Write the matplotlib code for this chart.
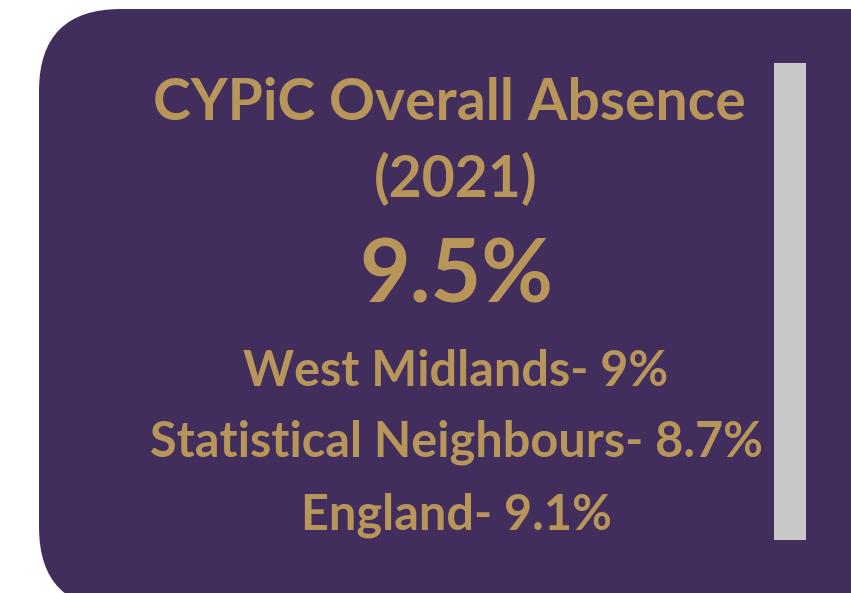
"""Infographic card: CYPiC overall absence (2021)."""

import matplotlib.pyplot as plt
from matplotlib.patches import FancyBboxPatch, Rectangle

TITLE_LINES = ["CYPiC Overall Absence", "(2021)"]
HEADLINE = "9.5%"
COMPARISONS = ["West Midlands- 9%", "Statistical Neighbours- 8.7%", "England- 9.1%"]

PURPLE = "#422e5c"
GOLD = "#b8965a"
GREY = "#c8c8c8"
FONT = ["Lato", "DejaVu Sans"]

fig = plt.figure(figsize=(8.51, 5.93), dpi=100)
ax = fig.add_axes([0, 0, 1, 1])
ax.set_xlim(0, 851)
ax.set_ylim(593, 0)
ax.axis("off")

card = FancyBboxPatch((39 + 82, 9 + 82), 900 - 164, 600 - 164,
                      boxstyle="round,pad=82", facecolor=PURPLE,
                      edgecolor="none")
ax.add_patch(card)
ax.add_patch(Rectangle((774, 63), 32, 477, facecolor=GREY, edgecolor="none"))

ax.text(449, 103, TITLE_LINES[0], ha="center", va="center", color=GOLD,
        fontsize=41, fontweight="bold", family=FONT)
ax.text(456, 180, TITLE_LINES[1], ha="center", va="center", color=GOLD,
        fontsize=41, fontweight="bold", family=FONT)
ax.text(456, 277, HEADLINE, ha="center", va="center", color=GOLD,
        fontsize=63, fontweight="bold", family=FONT)
for y, label in zip([372, 442, 515], COMPARISONS):
    ax.text(456, y, label, ha="center", va="center", color=GOLD,
            fontsize=35, fontweight="bold", family=FONT)

fig.savefig("out.png", dpi=100)
